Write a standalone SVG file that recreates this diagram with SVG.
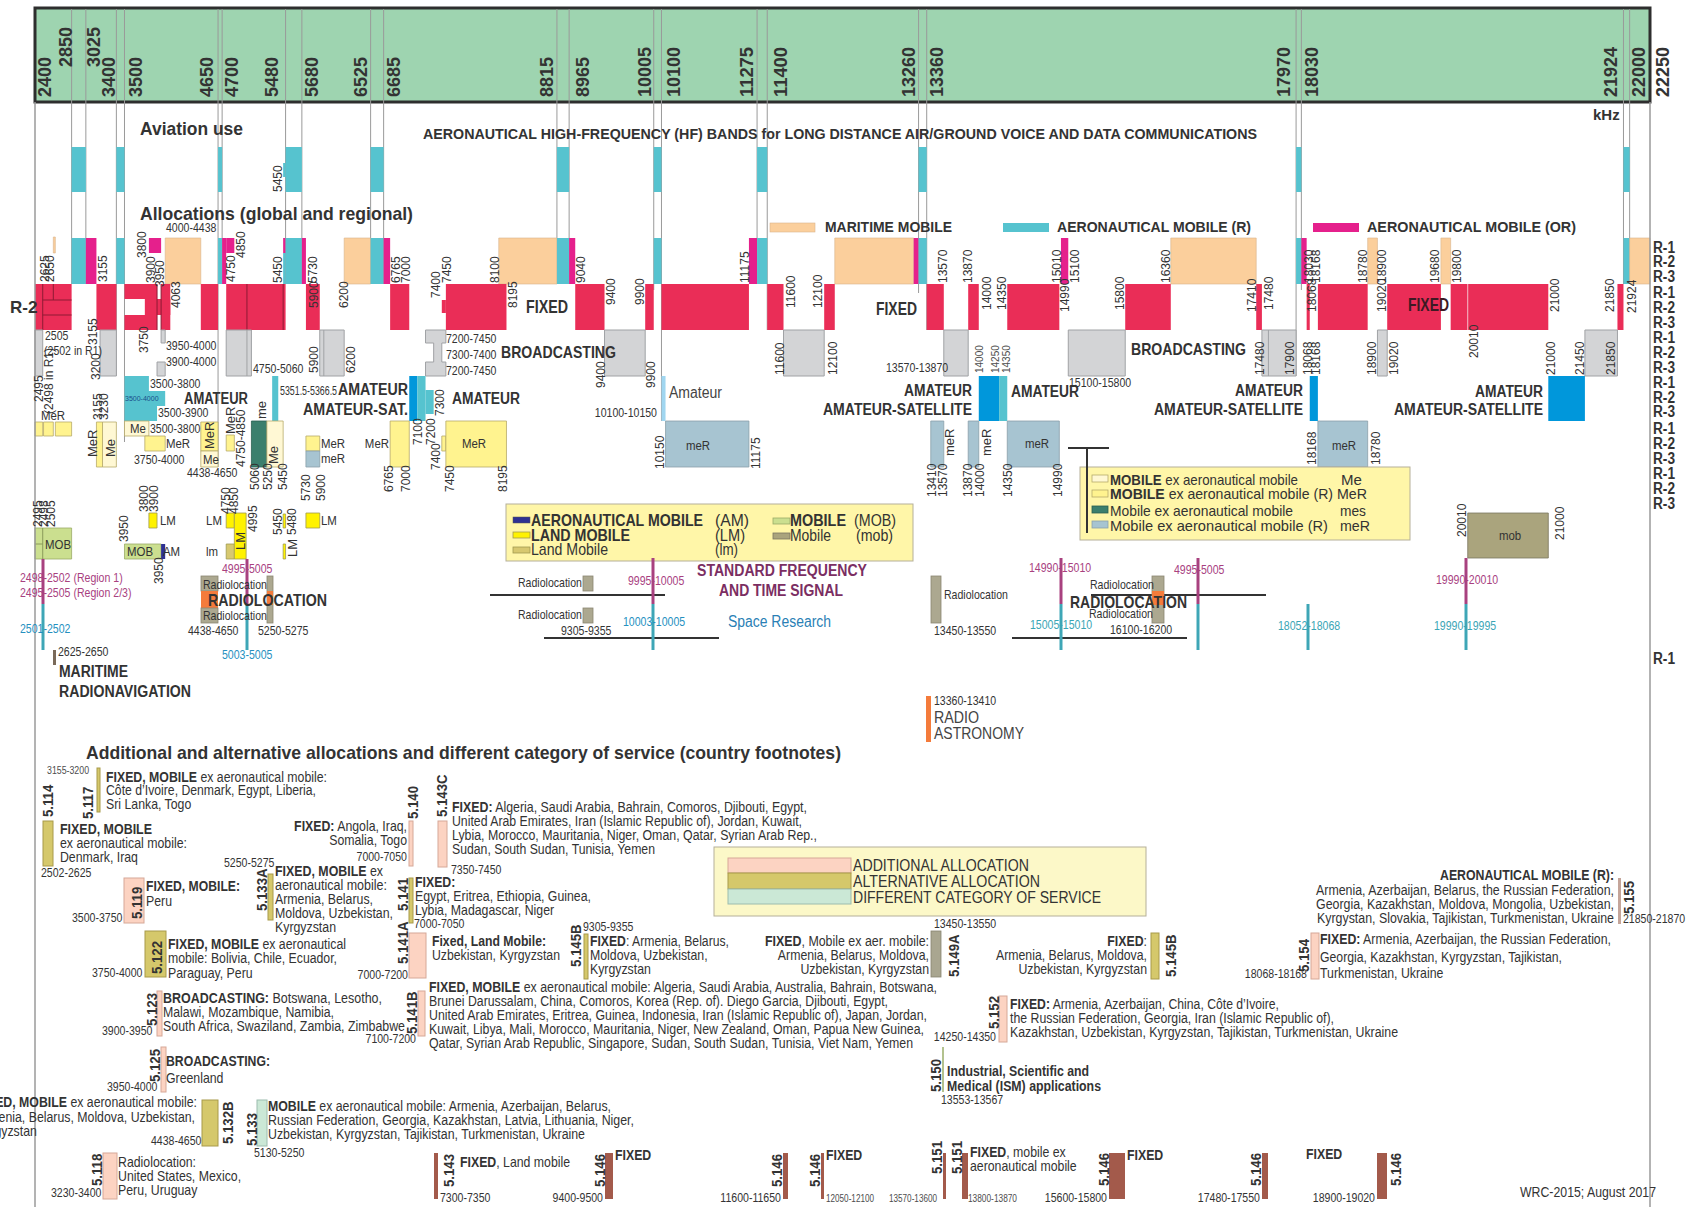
<svg xmlns="http://www.w3.org/2000/svg" width="1688" height="1207" viewBox="0 0 1688 1207">
<style>
text{font-family:"Liberation Sans Narrow","Liberation Sans",Arial,sans-serif;fill:#333}
.hd{font-size:19px;font-weight:bold;fill:#222}
.t{font-weight:bold;fill:#333}
.s{font-size:12px;fill:#4d4d4d}
.xs{font-size:10px;fill:#4d4d4d}
.m{font-size:13px;fill:#444}
.fn{font-size:14px;fill:#3a3a3a}
.nb{font-size:15px;font-weight:bold;fill:#333}
.b{font-weight:bold}
.rl{font-size:16px;font-weight:bold;fill:#333}
.s text:not([transform]):not([textLength]),.m text:not([transform]),.fn text:not([transform]):not([textLength]){transform-box:fill-box;transform-origin:0 0;transform:scaleX(.88)}
.s text[text-anchor=end]:not([transform]):not([textLength]),.m text[text-anchor=end]:not([transform]),.fn text[text-anchor=end]:not([transform]):not([textLength]){transform-origin:100% 0}
.m text[text-anchor=middle]:not([transform]){transform-origin:50% 0}
.fq rect,.fq line,.fq path{vector-effect:non-scaling-stroke}
.pe{fill:#fbcf9c;stroke:#d9b48c;stroke-width:.6}
.cy{fill:#56c3cf}
.mg{fill:#e5208c}
.rd{fill:#ea2d57}
.gy{fill:#d3d4d6;stroke:#a0a2a5;stroke-width:1}
.ab{fill:#0097db}
.ac{fill:#56c3cf}
.mr{fill:#fff38f;stroke:#b6aa6a;stroke-width:.8}
.me{fill:#fff8d4;stroke:#b6aa6a;stroke-width:.8}
.ms{fill:#3b7f6d;stroke:#2a5e50;stroke-width:.8}
.mb{fill:#a7c4d1;stroke:#8aa0aa;stroke-width:.8}
.lm{fill:#fff200;stroke:#a09a50;stroke-width:.8}
.ll{fill:#d7c86f;stroke:#a09a50;stroke-width:.8}
.mo{fill:#cbdf8f;stroke:#9aaa66;stroke-width:.8}
.mm{fill:#aaa47d;stroke:#7a7660;stroke-width:.8}
.am{fill:#2e3192}
.rk{fill:#aca890;stroke:#8a8672;stroke-width:.8}
.or{fill:#f47b3b}
.ad{fill:#fcd3c2;stroke:#d6a898;stroke-width:1}
.al{fill:#d5c86b;stroke:#a89a4a;stroke-width:1}
.dc{fill:#cbe8d6;stroke:#9cbcae;stroke-width:1}
.br{fill:#a35a4b}
.pu{stroke:#a8417f;stroke-width:3}
.te{stroke:#3ea6b6;stroke-width:3}
.pt{fill:#a8417f}
.bt{fill:#2590bf}
.tt{fill:#3aa5b5}
.lg{fill:#fff6a8;stroke:#b5b09a;stroke-width:1}
</style>

<g id="header">
<rect x="35" y="8" width="1615" height="94" fill="#9ed4b0" stroke="#2e2e2e" stroke-width="3"/>
</g>

<g id="bands" class="fq" transform="matrix(0.08136 0 0 1 -160.264 0)">
<g id="grid" stroke="#9a9a9a" stroke-width="1">
<line x1="2850" x2="2850" y1="9" y2="284"/><line x1="3025" x2="3025" y1="9" y2="284"/>
<line x1="3400" x2="3400" y1="9" y2="376"/><line x1="3500" x2="3500" y1="9" y2="442"/>
<line x1="4650" x2="4650" y1="9" y2="467"/><line x1="4700" x2="4700" y1="9" y2="284"/>
<line x1="5480" x2="5480" y1="9" y2="284"/><line x1="5680" x2="5680" y1="9" y2="284"/>
<line x1="6525" x2="6525" y1="9" y2="284"/><line x1="6685" x2="6685" y1="9" y2="284"/>
<line x1="8815" x2="8815" y1="9" y2="284"/><line x1="8965" x2="8965" y1="9" y2="284"/>
<line x1="10005" x2="10005" y1="9" y2="290"/><line x1="10100" x2="10100" y1="9" y2="421"/>
<line x1="11275" x2="11275" y1="9" y2="284"/><line x1="11400" x2="11400" y1="9" y2="330"/>
<line x1="13260" x2="13260" y1="9" y2="293"/><line x1="13360" x2="13360" y1="9" y2="330"/>
<line x1="17900" x2="17900" y1="9" y2="376"/><line x1="17965" x2="17965" y1="9" y2="290"/>
<line x1="21924" x2="21924" y1="9" y2="284"/><line x1="22000" x2="22000" y1="9" y2="284"/>
</g>

<g id="aviation" class="cy">
<rect x="2850" y="147" width="175" height="45"/><rect x="3400" y="147" width="100" height="45"/>
<rect x="4650" y="147" width="50" height="45"/><rect x="5480" y="147" width="200" height="45"/>
<rect x="5450" y="163" width="30" height="14"/>
<rect x="6525" y="147" width="160" height="45"/><rect x="8815" y="147" width="150" height="45"/>
<rect x="10005" y="147" width="95" height="45"/><rect x="11275" y="147" width="125" height="45"/>
<rect x="13260" y="147" width="100" height="45"/><rect x="17900" y="147" width="65" height="45"/>
<rect x="21924" y="147" width="76" height="45"/>
</g>

<g id="mobile-row">
<rect class="pe" x="2625" y="237" width="25" height="16"/>
<rect class="cy" x="2850" y="238" width="175" height="46"/>
<rect class="mg" x="3025" y="238" width="130" height="46"/>
<rect class="cy" x="3400" y="238" width="100" height="46"/>
<rect class="mg" x="3800" y="238" width="150" height="15"/>
<rect class="pe" x="4000" y="238" width="438" height="46"/>
<rect class="cy" x="4650" y="238" width="50" height="46"/>
<rect class="mg" x="4700" y="238" width="50" height="46"/>
<rect class="mg" x="4750" y="238" width="100" height="15"/>
<rect class="mg" x="5450" y="238" width="30" height="15"/>
<rect class="cy" x="5450" y="253" width="30" height="31"/>
<rect class="cy" x="5480" y="238" width="200" height="46"/>
<rect class="mg" x="5680" y="238" width="50" height="46"/>
<rect class="pe" x="6200" y="238" width="325" height="46"/>
<rect class="cy" x="6525" y="238" width="160" height="46"/>
<rect class="mg" x="6685" y="238" width="80" height="46"/>
<rect class="pe" x="8100" y="238" width="715" height="46"/>
<rect class="cy" x="8815" y="238" width="150" height="46"/>
<rect class="mg" x="8965" y="238" width="75" height="46"/>
<rect class="cy" x="10005" y="238" width="95" height="46"/>
<rect class="mg" x="11175" y="238" width="100" height="46"/>
<rect class="cy" x="11275" y="238" width="125" height="46"/>
<rect class="pe" x="12230" y="238" width="970" height="46"/>
<rect class="mg" x="13200" y="238" width="60" height="46"/>
<rect class="cy" x="13260" y="238" width="100" height="46"/>
<rect class="mg" x="15010" y="238" width="90" height="46"/>
<rect class="pe" x="16360" y="238" width="1050" height="46"/>
<rect class="cy" x="17900" y="238" width="65" height="46"/>
<rect class="mg" x="17965" y="238" width="65" height="46"/>
<rect class="pe" x="18780" y="238" width="120" height="46"/>
<rect class="pe" x="19680" y="238" width="120" height="46"/>
<rect class="cy" x="21924" y="238" width="76" height="46"/>
<rect class="pe" x="22000" y="238" width="250" height="46"/>
</g>

<g id="fixed-row" class="rd">
<rect x="2400" y="284" width="450" height="46"/>
<rect x="3155" y="284" width="245" height="46"/>
<rect x="3500" y="284" width="400" height="15"/>
<rect x="3750" y="299" width="313" height="16"/>
<rect x="3500" y="315" width="400" height="15"/>
<rect x="3950" y="284" width="113" height="46"/>
<rect x="4438" y="284" width="212" height="46"/>
<rect x="4750" y="284" width="730" height="46"/>
<rect x="5730" y="284" width="170" height="46"/>
<rect x="6765" y="284" width="235" height="46"/>
<rect x="7400" y="300" width="50" height="13"/>
<rect x="7450" y="284" width="745" height="46"/>
<rect x="9040" y="284" width="360" height="46"/>
<rect x="9900" y="284" width="105" height="46"/>
<rect x="10100" y="284" width="1075" height="46"/>
<rect x="11400" y="284" width="200" height="46"/>
<rect x="12100" y="284" width="130" height="46"/>
<rect x="13360" y="284" width="210" height="46"/>
<rect x="13870" y="284" width="130" height="46"/>
<rect x="14350" y="284" width="640" height="46"/>
<rect x="15800" y="284" width="560" height="46"/>
<rect x="17410" y="284" width="70" height="46"/>
<rect x="18030" y="284" width="38" height="46"/>
<rect x="18168" y="284" width="612" height="46"/>
<rect x="19020" y="284" width="660" height="46"/>
<rect x="19800" y="284" width="210" height="46"/>
<rect x="20010" y="284" width="990" height="46"/>
<rect x="21850" y="284" width="74" height="46"/>
</g>
<g id="fixed-dividers" stroke="#8e1a34" stroke-width="1">
<line x1="2495" x2="2495" y1="284" y2="330"/><line x1="2625" x2="2625" y1="284" y2="300"/>
<line x1="2495" x2="2850" y1="300" y2="300"/><line x1="2495" x2="2850" y1="315" y2="315"/>
<line x1="3900" x2="3900" y1="284" y2="330"/><line x1="3950" x2="3950" y1="284" y2="330"/>
<line x1="5005" x2="5005" y1="284" y2="330"/><line x1="5450" x2="5450" y1="284" y2="330"/>
<line x1="20010" x2="20010" y1="284" y2="330" stroke="#f4b6c2"/>
</g>

<g id="broadcasting-row" class="gy">
<rect x="2400" y="330" width="95" height="46"/>
<rect x="3200" y="330" width="200" height="46"/>
<rect x="3950" y="330" width="50" height="13"/>
<rect x="3900" y="362" width="100" height="14"/>
<rect x="4750" y="330" width="310" height="46"/>
<line x1="5005" x2="5005" y1="330" y2="376" stroke="#a0a2a5"/>
<rect x="5900" y="330" width="300" height="46"/>
<line x1="5950" x2="5950" y1="330" y2="376" stroke="#a0a2a5"/>
<path d="M7200 330 H7450 V343 H7400 V362 H7450 V376 H7200 V362 H7300 V343 H7200 Z"/>
<rect x="9400" y="330" width="500" height="46"/>
<rect x="11600" y="330" width="500" height="46"/>
<rect x="13570" y="330" width="300" height="46"/>
<rect x="15100" y="330" width="700" height="46"/>
<rect x="17480" y="330" width="420" height="46"/>
<line x1="17560" x2="17560" y1="330" y2="376" stroke="#a0a2a5"/>
<rect x="18900" y="330" width="120" height="46"/>
<rect x="21450" y="330" width="400" height="46"/>
</g>

<g id="amateur-row">
<rect class="ac" x="3500" y="376" width="300" height="15"/>
<rect class="ac" x="3500" y="391" width="500" height="15"/>
<rect class="ac" x="3500" y="406" width="400" height="15"/>
<rect class="ac" x="5315" y="376" width="75" height="45"/>
<rect class="ab" x="7000" y="376" width="100" height="45"/>
<rect class="ac" x="7100" y="376" width="100" height="45"/>
<rect class="ac" x="7200" y="390" width="100" height="24"/>
<rect fill="#a0d6f0" x="10100" y="376" width="50" height="45"/>
<rect class="ab" x="14000" y="376" width="250" height="45"/>
<rect class="ac" x="14250" y="376" width="100" height="45"/>
<rect class="ab" x="18068" y="376" width="100" height="45"/>
<rect class="ab" x="21000" y="376" width="450" height="45"/>
</g>

<g id="mobile-ex-row">
<rect class="mr" x="2400" y="422" width="95" height="14"/>
<rect class="mr" x="2505" y="422" width="120" height="14"/>
<rect class="mr" x="2650" y="422" width="200" height="14"/>
<rect class="mr" x="3155" y="422" width="75" height="45"/>
<rect class="me" x="3230" y="422" width="170" height="45"/>
<rect class="me" x="3500" y="421" width="300" height="15"/>
<rect class="mr" x="3750" y="436" width="250" height="15"/>
<rect class="mr" x="4438" y="422" width="212" height="29"/>
<rect class="me" x="4438" y="451" width="212" height="16"/>
<rect class="mr" x="4750" y="435" width="100" height="16"/>
<rect class="ms" x="5060" y="421" width="190" height="46"/>
<rect class="me" x="5250" y="421" width="200" height="46"/>
<rect class="mr" x="5730" y="436" width="170" height="15"/>
<rect class="mb" x="5730" y="451" width="170" height="16"/>
<rect class="mr" x="6765" y="421" width="235" height="46"/>
<rect class="mr" x="7400" y="436" width="50" height="15"/>
<rect class="mr" x="7450" y="421" width="745" height="46"/>
<rect class="mb" x="10150" y="421" width="1025" height="46"/>
<rect class="mb" x="13410" y="421" width="160" height="46"/>
<rect class="mb" x="13870" y="421" width="130" height="46"/>
<rect class="mb" x="14350" y="421" width="640" height="46"/>
<rect class="mb" x="18168" y="421" width="612" height="46"/>
</g>

<g id="land-mobile-row">
<rect class="mo" x="2400" y="528" width="450" height="31"/>
<line x1="2495" x2="2495" y1="528" y2="559" stroke="#8a9a5a"/>
<line x1="2400" x2="2495" y1="544" y2="544" stroke="#8a9a5a"/>
<rect class="lm" x="3800" y="513" width="100" height="15"/>
<rect class="mo" x="3500" y="544" width="450" height="15"/>
<rect class="am" x="3950" y="544" width="50" height="15"/>
<rect class="lm" x="4750" y="513" width="100" height="15"/>
<rect class="ll" x="4750" y="544" width="100" height="15"/>
<rect class="lm" x="4850" y="513" width="145" height="46"/>
<rect class="lm" x="5450" y="514" width="30" height="14"/>
<rect class="lm" x="5450" y="544" width="30" height="15"/>
<rect class="lm" x="5730" y="513" width="170" height="15"/>
<rect class="mm" x="20010" y="513" width="990" height="45"/>
</g>
</g>

<g id="borders" stroke="#9a9a9a" stroke-width="1.5">
<line x1="35" y1="102" x2="35" y2="1207"/>
<line x1="1650" y1="102" x2="1650" y2="1207"/>
</g>

<g id="header-labels" class="hd">
<text transform="translate(51 97) rotate(-90)" textLength="40" lengthAdjust="spacingAndGlyphs">2400</text>
<text transform="translate(72 67) rotate(-90)" textLength="40" lengthAdjust="spacingAndGlyphs">2850</text>
<text transform="translate(100 67) rotate(-90)" textLength="40" lengthAdjust="spacingAndGlyphs">3025</text>
<text transform="translate(115 97) rotate(-90)" textLength="40" lengthAdjust="spacingAndGlyphs">3400</text>
<text transform="translate(142 97) rotate(-90)" textLength="40" lengthAdjust="spacingAndGlyphs">3500</text>
<text transform="translate(213 97) rotate(-90)" textLength="40" lengthAdjust="spacingAndGlyphs">4650</text>
<text transform="translate(238 97) rotate(-90)" textLength="40" lengthAdjust="spacingAndGlyphs">4700</text>
<text transform="translate(278 97) rotate(-90)" textLength="40" lengthAdjust="spacingAndGlyphs">5480</text>
<text transform="translate(318 97) rotate(-90)" textLength="40" lengthAdjust="spacingAndGlyphs">5680</text>
<text transform="translate(367 97) rotate(-90)" textLength="40" lengthAdjust="spacingAndGlyphs">6525</text>
<text transform="translate(400 97) rotate(-90)" textLength="40" lengthAdjust="spacingAndGlyphs">6685</text>
<text transform="translate(553 97) rotate(-90)" textLength="40" lengthAdjust="spacingAndGlyphs">8815</text>
<text transform="translate(589 97) rotate(-90)" textLength="40" lengthAdjust="spacingAndGlyphs">8965</text>
<text transform="translate(651 97) rotate(-90)" textLength="50" lengthAdjust="spacingAndGlyphs">10005</text>
<text transform="translate(680 97) rotate(-90)" textLength="50" lengthAdjust="spacingAndGlyphs">10100</text>
<text transform="translate(753 97) rotate(-90)" textLength="50" lengthAdjust="spacingAndGlyphs">11275</text>
<text transform="translate(787 97) rotate(-90)" textLength="50" lengthAdjust="spacingAndGlyphs">11400</text>
<text transform="translate(915 97) rotate(-90)" textLength="50" lengthAdjust="spacingAndGlyphs">13260</text>
<text transform="translate(943 97) rotate(-90)" textLength="50" lengthAdjust="spacingAndGlyphs">13360</text>
<text transform="translate(1290 97) rotate(-90)" textLength="50" lengthAdjust="spacingAndGlyphs">17970</text>
<text transform="translate(1318 97) rotate(-90)" textLength="50" lengthAdjust="spacingAndGlyphs">18030</text>
<text transform="translate(1617 97) rotate(-90)" textLength="50" lengthAdjust="spacingAndGlyphs">21924</text>
<text transform="translate(1645 97) rotate(-90)" textLength="50" lengthAdjust="spacingAndGlyphs">22000</text>
<text transform="translate(1669 97) rotate(-90)" textLength="50" lengthAdjust="spacingAndGlyphs">22250</text>
<text x="1593" y="120" style="font-size:15px">kHz</text>
</g>

<g id="titles" class="t">
<text x="140" y="135" style="font-size:19px" textLength="103" lengthAdjust="spacingAndGlyphs">Aviation use</text>
<text x="140" y="220" style="font-size:19px" textLength="273" lengthAdjust="spacingAndGlyphs">Allocations (global and regional)</text>
<text x="423" y="139" style="font-size:15px" textLength="834" lengthAdjust="spacingAndGlyphs">AERONAUTICAL HIGH-FREQUENCY  (HF)  BANDS for LONG DISTANCE AIR/GROUND VOICE AND DATA COMMUNICATIONS</text>
<text x="86" y="759" style="font-size:19px" textLength="755" lengthAdjust="spacingAndGlyphs">Additional and alternative allocations and different category of service (country footnotes)</text>
</g>

<g id="legend-top">
<rect class="pe" x="770" y="223" width="45" height="9"/>
<text class="t" x="825" y="232" style="font-size:15px" textLength="127" lengthAdjust="spacingAndGlyphs">MARITIME MOBILE</text>
<rect class="cy" x="1003" y="223" width="46" height="9"/>
<text class="t" x="1057" y="232" style="font-size:15px" textLength="194" lengthAdjust="spacingAndGlyphs">AERONAUTICAL MOBILE (R)</text>
<rect class="mg" x="1313" y="223" width="46" height="9"/>
<text class="t" x="1367" y="232" style="font-size:15px" textLength="209" lengthAdjust="spacingAndGlyphs">AERONAUTICAL  MOBILE (OR)</text>
</g>

<g id="regions" class="rl">
<text x="10" y="313" style="font-size:17px">R-2</text>
<text x="1653" y="253" textLength="22" lengthAdjust="spacingAndGlyphs">R-1</text>
<text x="1653" y="267" textLength="22" lengthAdjust="spacingAndGlyphs">R-2</text>
<text x="1653" y="282" textLength="22" lengthAdjust="spacingAndGlyphs">R-3</text>
<text x="1653" y="298" textLength="22" lengthAdjust="spacingAndGlyphs">R-1</text>
<text x="1653" y="313" textLength="22" lengthAdjust="spacingAndGlyphs">R-2</text>
<text x="1653" y="328" textLength="22" lengthAdjust="spacingAndGlyphs">R-3</text>
<text x="1653" y="343" textLength="22" lengthAdjust="spacingAndGlyphs">R-1</text>
<text x="1653" y="358" textLength="22" lengthAdjust="spacingAndGlyphs">R-2</text>
<text x="1653" y="373" textLength="22" lengthAdjust="spacingAndGlyphs">R-3</text>
<text x="1653" y="388" textLength="22" lengthAdjust="spacingAndGlyphs">R-1</text>
<text x="1653" y="403" textLength="22" lengthAdjust="spacingAndGlyphs">R-2</text>
<text x="1653" y="417" textLength="22" lengthAdjust="spacingAndGlyphs">R-3</text>
<text x="1653" y="434" textLength="22" lengthAdjust="spacingAndGlyphs">R-1</text>
<text x="1653" y="449" textLength="22" lengthAdjust="spacingAndGlyphs">R-2</text>
<text x="1653" y="464" textLength="22" lengthAdjust="spacingAndGlyphs">R-3</text>
<text x="1653" y="479" textLength="22" lengthAdjust="spacingAndGlyphs">R-1</text>
<text x="1653" y="494" textLength="22" lengthAdjust="spacingAndGlyphs">R-2</text>
<text x="1653" y="509" textLength="22" lengthAdjust="spacingAndGlyphs">R-3</text>
<text x="1653" y="664" textLength="22" lengthAdjust="spacingAndGlyphs">R-1</text>
</g>

<g id="service-names" class="t">
<text x="526" y="313" style="font-size:18px" textLength="42" lengthAdjust="spacingAndGlyphs">FIXED</text>
<text x="876" y="315" style="font-size:18px" textLength="41" lengthAdjust="spacingAndGlyphs">FIXED</text>
<text x="1408" y="311" style="font-size:18px;fill:#3d1a24" textLength="41" lengthAdjust="spacingAndGlyphs">FIXED</text>
<text x="501" y="358" style="font-size:17px" textLength="115" lengthAdjust="spacingAndGlyphs">BROADCASTING</text>
<text x="1131" y="355" style="font-size:17px" textLength="115" lengthAdjust="spacingAndGlyphs">BROADCASTING</text>
<text x="184" y="404" style="font-size:16px" textLength="64" lengthAdjust="spacingAndGlyphs">AMATEUR</text>
<text x="338" y="395" style="font-size:16px" textLength="70" lengthAdjust="spacingAndGlyphs">AMATEUR</text>
<text x="303" y="415" style="font-size:16px" textLength="105" lengthAdjust="spacingAndGlyphs">AMATEUR-SAT.</text>
<text x="452" y="404" style="font-size:16px" textLength="68" lengthAdjust="spacingAndGlyphs">AMATEUR</text>
<text x="904" y="396" style="font-size:16px" textLength="68" lengthAdjust="spacingAndGlyphs">AMATEUR</text>
<text x="823" y="415" style="font-size:16px" textLength="149" lengthAdjust="spacingAndGlyphs">AMATEUR-SATELLITE</text>
<text x="1011" y="397" style="font-size:16px" textLength="68" lengthAdjust="spacingAndGlyphs">AMATEUR</text>
<text x="1235" y="396" style="font-size:16px" textLength="68" lengthAdjust="spacingAndGlyphs">AMATEUR</text>
<text x="1154" y="415" style="font-size:16px" textLength="149" lengthAdjust="spacingAndGlyphs">AMATEUR-SATELLITE</text>
<text x="1475" y="397" style="font-size:16px" textLength="68" lengthAdjust="spacingAndGlyphs">AMATEUR</text>
<text x="1394" y="415" style="font-size:16px" textLength="149" lengthAdjust="spacingAndGlyphs">AMATEUR-SATELLITE</text>
<text x="669" y="398" style="font-size:16px;font-weight:normal;fill:#444" textLength="53" lengthAdjust="spacingAndGlyphs">Amateur</text>
</g>

<g id="band-labels" class="s">
<text transform="translate(282 192) rotate(-90)">5450</text>
<text transform="translate(49 282) rotate(-90)">2625</text>
<text transform="translate(54 282) rotate(-90)">2650</text>
<text transform="translate(107 282) rotate(-90)">3155</text>
<text transform="translate(146 258) rotate(-90)">3800</text>
<text transform="translate(155 283) rotate(-90)">3900</text>
<text transform="translate(164 287) rotate(-90)">3950</text>
<text transform="translate(180 308) rotate(-90)">4063</text>
<text transform="translate(235 282) rotate(-90)">4750</text>
<text transform="translate(245 258) rotate(-90)">4850</text>
<text transform="translate(282 283) rotate(-90)">5450</text>
<text transform="translate(317 283) rotate(-90)">5730</text>
<text transform="translate(400 283) rotate(-90)">6765</text>
<text transform="translate(410 283) rotate(-90)">7000</text>
<text transform="translate(318 308) rotate(-90)">5900</text>
<text transform="translate(348 308) rotate(-90)">6200</text>
<text transform="translate(440 298) rotate(-90)">7400</text>
<text transform="translate(451 283) rotate(-90)">7450</text>
<text transform="translate(499 283) rotate(-90)">8100</text>
<text transform="translate(517 308) rotate(-90)">8195</text>
<text transform="translate(585 283) rotate(-90)">9040</text>
<text transform="translate(615 305) rotate(-90)">9400</text>
<text transform="translate(644 305) rotate(-90)">9900</text>
<text transform="translate(749 283) rotate(-90)">11175</text>
<text transform="translate(795 308) rotate(-90)">11600</text>
<text transform="translate(822 308) rotate(-90)">12100</text>
<text transform="translate(947 283) rotate(-90)">13570</text>
<text transform="translate(972 283) rotate(-90)">13870</text>
<text transform="translate(991 310) rotate(-90)">14000</text>
<text transform="translate(1006 310) rotate(-90)">14350</text>
<text transform="translate(1061 283) rotate(-90)">15010</text>
<text transform="translate(1079 283) rotate(-90)">15100</text>
<text transform="translate(1069 312) rotate(-90)">14990</text>
<text transform="translate(1124 310) rotate(-90)">15800</text>
<text transform="translate(1170 283) rotate(-90)">16360</text>
<text transform="translate(1256 312) rotate(-90)">17410</text>
<text transform="translate(1273 310) rotate(-90)">17480</text>
<text transform="translate(1313 283) rotate(-90)">18030</text>
<text transform="translate(1320 283) rotate(-90)">18168</text>
<text transform="translate(1316 312) rotate(-90)">18068</text>
<text transform="translate(1367 283) rotate(-90)">18780</text>
<text transform="translate(1386 283) rotate(-90)">18900</text>
<text transform="translate(1386 312) rotate(-90)">19020</text>
<text transform="translate(1439 283) rotate(-90)">19680</text>
<text transform="translate(1461 283) rotate(-90)">19800</text>
<text transform="translate(1559 312) rotate(-90)">21000</text>
<text transform="translate(1614 312) rotate(-90)">21850</text>
<text transform="translate(1636 313) rotate(-90)">21924</text>
<text transform="translate(97 345) rotate(-90)">3155</text>
<text transform="translate(100 380) rotate(-90)">3200</text>
<text transform="translate(148 353) rotate(-90)">3750</text>
<text transform="translate(318 373) rotate(-90)">5900</text>
<text transform="translate(355 373) rotate(-90)">6200</text>
<text transform="translate(605 388) rotate(-90)">9400</text>
<text transform="translate(655 388) rotate(-90)">9900</text>
<text transform="translate(784 375) rotate(-90)">11600</text>
<text transform="translate(837 375) rotate(-90)">12100</text>
<text class="xs" transform="translate(983 373) rotate(-90)">14000</text>
<text class="xs" transform="translate(999 373) rotate(-90)">14250</text>
<text class="xs" transform="translate(1010 373) rotate(-90)">14350</text>
<text transform="translate(1264 375) rotate(-90)">17480</text>
<text transform="translate(1294 375) rotate(-90)">17900</text>
<text transform="translate(1312 375) rotate(-90)">18068</text>
<text transform="translate(1320 375) rotate(-90)">18168</text>
<text transform="translate(1376 375) rotate(-90)">18900</text>
<text transform="translate(1398 375) rotate(-90)">19020</text>
<text transform="translate(1478 358) rotate(-90)">20010</text>
<text transform="translate(1555 375) rotate(-90)">21000</text>
<text transform="translate(1584 375) rotate(-90)">21450</text>
<text transform="translate(1615 375) rotate(-90)">21850</text>
<text transform="translate(43 402) rotate(-90)">2495</text>
<text transform="translate(53 414) rotate(-90)">(2498 in R1)</text>
<text transform="translate(102 420) rotate(-90)">3155</text>
<text transform="translate(108 420) rotate(-90)">3230</text>
<text transform="translate(422 445) rotate(-90)">7100</text>
<text transform="translate(435 445) rotate(-90)">7200</text>
<text transform="translate(444 416) rotate(-90)">7300</text>
<text transform="translate(245 467) rotate(-90)">4750-4850</text>
<text transform="translate(259 490) rotate(-90)">5060</text>
<text transform="translate(272 490) rotate(-90)">5250</text>
<text transform="translate(287 490) rotate(-90)">5450</text>
<text transform="translate(310 501) rotate(-90)">5730</text>
<text transform="translate(325 501) rotate(-90)">5900</text>
<text transform="translate(393 492) rotate(-90)">6765</text>
<text transform="translate(410 492) rotate(-90)">7000</text>
<text transform="translate(440 470) rotate(-90)">7400</text>
<text transform="translate(454 492) rotate(-90)">7450</text>
<text transform="translate(507 492) rotate(-90)">8195</text>
<text transform="translate(664 469) rotate(-90)">10150</text>
<text transform="translate(760 469) rotate(-90)">11175</text>
<text transform="translate(936 497) rotate(-90)">13410</text>
<text transform="translate(947 497) rotate(-90)">13570</text>
<text transform="translate(972 497) rotate(-90)">13870</text>
<text transform="translate(984 497) rotate(-90)">14000</text>
<text transform="translate(1012 497) rotate(-90)">14350</text>
<text transform="translate(1062 497) rotate(-90)">14990</text>
<text transform="translate(1316 465) rotate(-90)">18168</text>
<text transform="translate(1380 465) rotate(-90)">18780</text>
<text transform="translate(42 527) rotate(-90)">2495</text>
<text transform="translate(48 527) rotate(-90)">2498</text>
<text transform="translate(55 527) rotate(-90)">2505</text>
<text transform="translate(148 512) rotate(-90)">3800</text>
<text transform="translate(158 512) rotate(-90)">3900</text>
<text transform="translate(128 542) rotate(-90)">3950</text>
<text transform="translate(163 584) rotate(-90)">3950</text>
<text transform="translate(230 514) rotate(-90)">4750</text>
<text transform="translate(238 514) rotate(-90)">4850</text>
<text transform="translate(257 532) rotate(-90)">4995</text>
<text transform="translate(282 535) rotate(-90)">5450</text>
<text transform="translate(296 535) rotate(-90)">5480</text>
<text transform="translate(1466 537) rotate(-90)">20010</text>
<text transform="translate(1564 540) rotate(-90)">21000</text>
<text x="45" y="340">2505</text>
<text x="44" y="355">(2502 in R1)</text>
<text x="166" y="350">3950-4000</text>
<text x="166" y="366">3900-4000</text>
<text x="253" y="373">4750-5060</text>
<text x="446" y="343">7200-7450</text>
<text x="446" y="359">7300-7400</text>
<text x="446" y="375">7200-7450</text>
<text x="886" y="372">13570-13870</text>
<text x="1069" y="387">15100-15800</text>
<text x="166" y="232">4000-4438</text>
<text x="150" y="388">3500-3800</text>
<text x="125" y="401" style="font-size:8px;fill:#1b4f8a">3500-4000</text>
<text x="158" y="417">3500-3900</text>
<text x="280" y="395" textLength="57" lengthAdjust="spacingAndGlyphs">5351.5-5366.5</text>
<text x="657" y="417" text-anchor="end">10100-10150</text>
<text x="150" y="433">3500-3800</text>
<text x="134" y="464">3750-4000</text>
<text x="187" y="477">4438-4650</text>
</g>

<g id="mobile-labels" class="m">
<text x="41" y="420">MeR</text>
<text transform="translate(97 457) rotate(-90)">MeR</text>
<text transform="translate(115 457) rotate(-90)">Me</text>
<text x="130" y="433">Me</text>
<text x="166" y="448">MeR</text>
<text transform="translate(214 449) rotate(-90)">MeR</text>
<text x="203" y="464">Me</text>
<text transform="translate(235 434) rotate(-90)">MeR</text>
<text transform="translate(266 419) rotate(-90)">me</text>
<text transform="translate(278 464) rotate(-90)">Me</text>
<text x="321" y="448">MeR</text>
<text x="321" y="463">meR</text>
<text x="389" y="448" text-anchor="end">MeR</text>
<text x="474" y="448" text-anchor="middle">MeR</text>
<text x="698" y="450" text-anchor="middle">meR</text>
<text transform="translate(954 456) rotate(-90)">meR</text>
<text transform="translate(991 456) rotate(-90)">meR</text>
<text x="1037" y="448" text-anchor="middle">meR</text>
<text x="1344" y="450" text-anchor="middle">meR</text>
<text x="45" y="549">MOB</text>
<text x="160" y="525">LM</text>
<text x="127" y="556">MOB</text>
<text x="163" y="556">AM</text>
<text x="222" y="525" text-anchor="end">LM</text>
<text x="212" y="556" text-anchor="middle">lm</text>
<text transform="translate(245 550) rotate(-90)">LM</text>
<text transform="translate(297 557) rotate(-90)">LM</text>
<text x="321" y="525">LM</text>
<text x="1510" y="540" text-anchor="middle">mob</text>
</g>

<g id="legend-mobile">
<rect class="lg" x="506" y="504" width="407" height="57"/>
<rect class="am" x="513" y="517" width="17" height="6" stroke="#555" stroke-width=".5"/>
<rect class="lm" x="513" y="532" width="17" height="6"/>
<rect class="ll" x="513" y="547" width="17" height="6"/>
<rect class="mo" x="773" y="518" width="17" height="6"/>
<rect class="mm" x="773" y="533" width="17" height="6"/>
<text x="531" y="526" style="font-size:17px;font-weight:bold" textLength="172" lengthAdjust="spacingAndGlyphs">AERONAUTICAL MOBILE</text>
<text x="531" y="541" style="font-size:17px;font-weight:bold" textLength="99" lengthAdjust="spacingAndGlyphs">LAND MOBILE</text>
<text x="531" y="555" style="font-size:17px" textLength="77" lengthAdjust="spacingAndGlyphs">Land Mobile</text>
<text x="715" y="526" style="font-size:16px" textLength="34" lengthAdjust="spacingAndGlyphs">(AM)</text>
<text x="715" y="541" style="font-size:16px" textLength="30" lengthAdjust="spacingAndGlyphs">(LM)</text>
<text x="715" y="555" style="font-size:16px" textLength="23" lengthAdjust="spacingAndGlyphs">(lm)</text>
<text x="790" y="526" style="font-size:17px;font-weight:bold" textLength="56" lengthAdjust="spacingAndGlyphs">MOBILE</text>
<text x="790" y="541" style="font-size:17px" textLength="41" lengthAdjust="spacingAndGlyphs">Mobile</text>
<text x="854" y="526" style="font-size:16px" textLength="42" lengthAdjust="spacingAndGlyphs">(MOB)</text>
<text x="856" y="541" style="font-size:16px" textLength="37" lengthAdjust="spacingAndGlyphs">(mob)</text>
</g>

<g id="legend-mobile-ex">
<rect class="lg" x="1080" y="467" width="330" height="73"/>
<rect class="me" x="1092" y="475" width="16" height="7"/>
<rect class="mr" x="1092" y="490" width="16" height="7"/>
<rect class="ms" x="1092" y="506" width="16" height="7"/>
<rect class="mb" x="1092" y="521" width="16" height="7"/>
<text x="1110" y="485" style="font-size:15px" textLength="188" lengthAdjust="spacingAndGlyphs"><tspan class="b">MOBILE</tspan> ex aeronautical mobile</text>
<text x="1110" y="499" style="font-size:15px" textLength="223" lengthAdjust="spacingAndGlyphs"><tspan class="b">MOBILE</tspan> ex aeronautical mobile (R)</text>
<text x="1110" y="516" style="font-size:15px" textLength="183" lengthAdjust="spacingAndGlyphs">Mobile ex aeronautical mobile</text>
<text x="1110" y="531" style="font-size:15px" textLength="218" lengthAdjust="spacingAndGlyphs">Mobile ex aeronautical mobile (R)</text>
<text x="1341" y="485" style="font-size:15px">Me</text>
<text x="1337" y="499" style="font-size:15px" textLength="30" lengthAdjust="spacingAndGlyphs">MeR</text>
<text x="1340" y="516" style="font-size:15px" textLength="26" lengthAdjust="spacingAndGlyphs">mes</text>
<text x="1340" y="531" style="font-size:15px" textLength="30" lengthAdjust="spacingAndGlyphs">meR</text>
</g>

<g id="connectors" stroke="#333" stroke-width="2" fill="none">
<line x1="490" y1="595" x2="665" y2="595"/>
<line x1="544" y1="638" x2="719" y2="638"/>
<line x1="1091" y1="595" x2="1266" y2="595"/>
<line x1="1012" y1="638" x2="1187" y2="638"/>
<line x1="1068" y1="448" x2="1109" y2="448"/>
<line x1="1087" y1="448" x2="1087" y2="533"/>
</g>

<g id="secondary">
<rect class="rk" x="201" y="576" width="17" height="15"/>
<rect class="or" x="201" y="591" width="17" height="17"/>
<rect class="rk" x="201" y="608" width="17" height="15"/>
<rect class="rk" x="267" y="576" width="6" height="47"/>
<rect class="or" x="267" y="591" width="6" height="14"/>
<rect class="rk" x="583" y="576" width="10" height="15"/>
<rect class="rk" x="583" y="608" width="10" height="15"/>
<rect class="rk" x="931" y="576" width="10" height="47"/>
<rect class="rk" x="1152" y="576" width="12" height="47"/>
<rect class="or" x="1152" y="591" width="12" height="14"/>
<rect x="53" y="650" width="3" height="15" fill="#7a6a5a"/>
<rect class="or" x="926" y="696" width="5" height="46"/>
<g fill="none">
<line class="pu" x1="43" y1="559" x2="43" y2="604"/><line class="te" x1="43" y1="604" x2="43" y2="650"/>
<line class="pu" x1="247" y1="559" x2="247" y2="604"/><line class="te" x1="247" y1="604" x2="247" y2="650"/>
<line class="pu" x1="653" y1="558" x2="653" y2="604"/><line class="te" x1="653" y1="604" x2="653" y2="650"/>
<line class="pu" x1="1061" y1="558" x2="1061" y2="604"/><line class="te" x1="1061" y1="604" x2="1061" y2="650"/>
<line class="pu" x1="1198" y1="558" x2="1198" y2="604"/><line class="te" x1="1198" y1="604" x2="1198" y2="650"/>
<line class="pu" x1="1466" y1="558" x2="1466" y2="604"/><line class="te" x1="1466" y1="604" x2="1466" y2="650"/>
<line class="te" x1="1308" y1="604" x2="1308" y2="650"/>
</g>
<g class="s">
<text x="203" y="589">Radiolocation</text>
<text x="203" y="620">Radiolocation</text>
<text x="188" y="635">4438-4650</text>
<text x="258" y="635">5250-5275</text>
<text x="518" y="587">Radiolocation</text>
<text x="518" y="619">Radiolocation</text>
<text x="561" y="635">9305-9355</text>
<text x="944" y="599">Radiolocation</text>
<text x="934" y="635">13450-13550</text>
<text x="1090" y="589">Radiolocation</text>
<text x="1089" y="618">Radiolocation</text>
<text x="1110" y="634">16100-16200</text>
<text x="58" y="656">2625-2650</text>
<text x="934" y="705">13360-13410</text>
<text class="pt" x="20" y="582">2498-2502 (Region 1)</text>
<text class="pt" x="20" y="597">2495-2505 (Region 2/3)</text>
<text class="bt" x="20" y="633">2501-2502</text>
<text class="pt" x="222" y="573">4995-5005</text>
<text class="bt" x="222" y="659">5003-5005</text>
<text class="pt" x="628" y="585">9995-10005</text>
<text class="bt" x="623" y="626">10003-10005</text>
<text class="pt" x="1029" y="572">14990-15010</text>
<text class="tt" x="1030" y="629">15005-15010</text>
<text class="pt" x="1174" y="574">4995-5005</text>
<text class="pt" x="1436" y="584">19990-20010</text>
<text class="tt" x="1434" y="630">19990-19995</text>
<text class="tt" x="1278" y="630">18052-18068</text>
</g>
<text class="t" x="208" y="606" style="font-size:17px" textLength="119" lengthAdjust="spacingAndGlyphs">RADIOLOCATION</text>
<text class="t" x="1070" y="608" style="font-size:17px" textLength="117" lengthAdjust="spacingAndGlyphs">RADIOLOCATION</text>
<text class="t" x="59" y="677" style="font-size:16px" textLength="69" lengthAdjust="spacingAndGlyphs">MARITIME</text>
<text class="t" x="59" y="697" style="font-size:16px" textLength="132" lengthAdjust="spacingAndGlyphs">RADIONAVIGATION</text>
<text x="934" y="723" style="font-size:17px;fill:#444" textLength="45" lengthAdjust="spacingAndGlyphs">RADIO</text>
<text x="934" y="739" style="font-size:17px;fill:#444" textLength="90" lengthAdjust="spacingAndGlyphs">ASTRONOMY</text>
<text x="782" y="576" text-anchor="middle" style="font-size:16px;font-weight:bold;fill:#7b2e62" textLength="170" lengthAdjust="spacingAndGlyphs">STANDARD FREQUENCY</text>
<text x="781" y="596" text-anchor="middle" style="font-size:16px;font-weight:bold;fill:#7b2e62" textLength="124" lengthAdjust="spacingAndGlyphs">AND TIME SIGNAL</text>
<text x="728" y="627" style="font-size:16px;fill:#2a7fb5" textLength="103" lengthAdjust="spacingAndGlyphs">Space Research</text>
</g>

<g id="legend-footnotes">
<rect x="714" y="847" width="432" height="69" fill="#fcf8c8" stroke="#b5b09a" stroke-width="1"/>
<rect class="ad" x="728" y="858" width="123" height="15"/>
<rect class="al" x="728" y="873" width="123" height="16"/>
<rect class="dc" x="728" y="889" width="123" height="15"/>
<text x="853" y="871" style="font-size:16px" textLength="176" lengthAdjust="spacingAndGlyphs">ADDITIONAL ALLOCATION</text>
<text x="853" y="887" style="font-size:16px" textLength="187" lengthAdjust="spacingAndGlyphs">ALTERNATIVE ALLOCATION</text>
<text x="853" y="903" style="font-size:16px" textLength="248" lengthAdjust="spacingAndGlyphs">DIFFERENT CATEGORY OF SERVICE</text>
</g>

<g id="footnote-bars">
<rect class="ad" x="409" y="821" width="4" height="45"/>
<rect class="ad" x="438" y="821" width="9" height="46"/>
<rect class="ad" x="124" y="878" width="20" height="45"/>
<rect class="ad" x="409" y="933" width="17" height="45"/>
<rect class="ad" x="157" y="991" width="5" height="45"/>
<rect class="ad" x="418" y="991" width="7" height="45"/>
<rect class="ad" x="161" y="1047" width="5" height="45"/>
<rect class="ad" x="103" y="1153" width="14" height="46"/>
<rect class="ad" x="999" y="996" width="8" height="46"/>
<rect class="ad" x="1311" y="933" width="8" height="46"/>
<rect class="al" x="97" y="768" width="3" height="44"/>
<rect class="al" x="43" y="821" width="10" height="45"/>
<rect class="al" x="268" y="874" width="5" height="46"/>
<rect class="al" x="409" y="878" width="4" height="45"/>
<rect class="al" x="145" y="931" width="21" height="46"/>
<rect class="al" x="584" y="934" width="4" height="45"/>
<rect class="al" x="1151" y="933" width="8" height="46"/>
<rect class="al" x="202" y="1100" width="16" height="46"/>
<rect class="dc" x="257" y="1100" width="10" height="46"/>
<rect x="942" y="1047" width="2" height="45" fill="#b3c28e"/>
<rect x="931" y="931" width="10" height="46" fill="#a9a690" stroke="#888470" stroke-width=".8"/>
<rect x="1618" y="878" width="3" height="46" fill="#c4a59a"/>
<rect class="br" x="434" y="1153" width="4" height="46"/>
<rect class="br" x="605" y="1153" width="8" height="46"/>
<rect class="br" x="783" y="1153" width="5" height="46"/>
<rect class="br" x="821" y="1153" width="3" height="46"/>
<rect class="br" x="943" y="1153" width="3" height="46"/>
<rect class="br" x="962" y="1153" width="6" height="46"/>
<rect class="br" x="1109" y="1153" width="16" height="46"/>
<rect class="br" x="1262" y="1153" width="6" height="46"/>
<rect class="br" x="1377" y="1153" width="10" height="46"/>
</g>

<g id="footnote-numbers" class="nb">
<text transform="translate(93 819) rotate(-90) scale(.88 1)">5.117</text>
<text transform="translate(53 817) rotate(-90) scale(.88 1)">5.114</text>
<text transform="translate(418 819) rotate(-90) scale(.88 1)">5.140</text>
<text transform="translate(447 817) rotate(-90) scale(.88 1)">5.143C</text>
<text transform="translate(142 919) rotate(-90) scale(.88 1)">5.119</text>
<text transform="translate(267 911) rotate(-90) scale(.88 1)">5.133A</text>
<text transform="translate(408 911) rotate(-90) scale(.88 1)">5.141</text>
<text transform="translate(162 974) rotate(-90) scale(.88 1)">5.122</text>
<text transform="translate(408 964) rotate(-90) scale(.88 1)">5.141A</text>
<text transform="translate(581 967) rotate(-90) scale(.88 1)">5.145B</text>
<text transform="translate(959 977) rotate(-90) scale(.88 1)">5.149A</text>
<text transform="translate(1176 977) rotate(-90) scale(.88 1)">5.145B</text>
<text transform="translate(1309 972) rotate(-90) scale(.88 1)">5.154</text>
<text transform="translate(1634 914) rotate(-90) scale(.88 1)">5.155</text>
<text transform="translate(157 1026) rotate(-90) scale(.88 1)">5.123</text>
<text transform="translate(417 1034) rotate(-90) scale(.88 1)">5.141B</text>
<text transform="translate(999 1029) rotate(-90) scale(.88 1)">5.152</text>
<text transform="translate(160 1082) rotate(-90) scale(.88 1)">5.125</text>
<text transform="translate(941 1092) rotate(-90) scale(.88 1)">5.150</text>
<text transform="translate(233 1144) rotate(-90) scale(.88 1)">5.132B</text>
<text transform="translate(257 1146) rotate(-90) scale(.88 1)">5.133</text>
<text transform="translate(102 1186) rotate(-90) scale(.88 1)">5.118</text>
<text transform="translate(454 1187) rotate(-90) scale(.88 1)">5.143</text>
<text transform="translate(605 1187) rotate(-90) scale(.88 1)">5.146</text>
<text transform="translate(782 1187) rotate(-90) scale(.88 1)">5.146</text>
<text transform="translate(820 1187) rotate(-90) scale(.88 1)">5.146</text>
<text transform="translate(942 1174) rotate(-90) scale(.88 1)">5.151</text>
<text transform="translate(962 1174) rotate(-90) scale(.88 1)">5.151</text>
<text transform="translate(1109 1186) rotate(-90) scale(.88 1)">5.146</text>
<text transform="translate(1261 1186) rotate(-90) scale(.88 1)">5.146</text>
<text transform="translate(1401 1186) rotate(-90) scale(.88 1)">5.146</text>
</g>

<g id="footnote-ranges" class="s">
<text x="47" y="774" class="xs">3155-3200</text>
<text x="41" y="877">2502-2625</text>
<text x="72" y="922">3500-3750</text>
<text x="92" y="977">3750-4000</text>
<text x="102" y="1035">3900-3950</text>
<text x="107" y="1091">3950-4000</text>
<text x="151" y="1145">4438-4650</text>
<text x="254" y="1157">5130-5250</text>
<text x="51" y="1197">3230-3400</text>
<text x="407" y="861" text-anchor="end">7000-7050</text>
<text x="224" y="867">5250-5275</text>
<text x="414" y="928">7000-7050</text>
<text x="408" y="979" text-anchor="end">7000-7200</text>
<text x="416" y="1043" text-anchor="end">7100-7200</text>
<text x="451" y="874">7350-7450</text>
<text x="583" y="931">9305-9355</text>
<text x="934" y="928">13450-13550</text>
<text x="996" y="1041" text-anchor="end">14250-14350</text>
<text x="941" y="1104">13553-13567</text>
<text x="1623" y="923">21850-21870</text>
<text x="1307" y="978" text-anchor="end">18068-18168</text>
<text x="440" y="1202">7300-7350</text>
<text x="603" y="1202" text-anchor="end">9400-9500</text>
<text x="781" y="1202" text-anchor="end">11600-11650</text>
<text x="826" y="1202" class="xs" textLength="48" lengthAdjust="spacingAndGlyphs">12050-12100</text>
<text x="889" y="1202" class="xs" textLength="48" lengthAdjust="spacingAndGlyphs">13570-13600</text>
<text x="968" y="1202" class="xs" textLength="49" lengthAdjust="spacingAndGlyphs">13800-13870</text>
<text x="1107" y="1202" text-anchor="end">15600-15800</text>
<text x="1260" y="1202" text-anchor="end">17480-17550</text>
<text x="1375" y="1202" text-anchor="end">18900-19020</text>
</g>

<g id="footnote-texts" class="fn">
<text x="106" y="782" textLength="221" lengthAdjust="spacingAndGlyphs"><tspan class="b">FIXED, MOBILE</tspan> ex aeronautical mobile:</text>
<text x="106" y="795" textLength="210" lengthAdjust="spacingAndGlyphs">Côte d’Ivoire, Denmark, Egypt, Liberia,</text>
<text x="106" y="809">Sri Lanka, Togo</text>
<text x="60" y="834" class="b" textLength="92" lengthAdjust="spacingAndGlyphs">FIXED, MOBILE</text>
<text x="60" y="848" textLength="127" lengthAdjust="spacingAndGlyphs">ex aeronautical mobile:</text>
<text x="60" y="862">Denmark, Iraq</text>
<text x="146" y="891" class="b" textLength="94" lengthAdjust="spacingAndGlyphs">FIXED, MOBILE:</text>
<text x="146" y="906">Peru</text>
<text x="168" y="949" textLength="178" lengthAdjust="spacingAndGlyphs"><tspan class="b">FIXED, MOBILE</tspan> ex aeronautical</text>
<text x="168" y="963" textLength="169" lengthAdjust="spacingAndGlyphs">mobile: Bolivia, Chile, Ecuador,</text>
<text x="168" y="978">Paraguay, Peru</text>
<text x="163" y="1003" textLength="219" lengthAdjust="spacingAndGlyphs"><tspan class="b">BROADCASTING:</tspan>  Botswana, Lesotho,</text>
<text x="163" y="1017" textLength="171" lengthAdjust="spacingAndGlyphs">Malawi, Mozambique, Namibia,</text>
<text x="163" y="1031" textLength="242" lengthAdjust="spacingAndGlyphs">South Africa, Swaziland, Zambia, Zimbabwe</text>
<text x="166" y="1066" class="b" textLength="104" lengthAdjust="spacingAndGlyphs">BROADCASTING:</text>
<text x="166" y="1083">Greenland</text>
<text x="-24" y="1107" textLength="221" lengthAdjust="spacingAndGlyphs"><tspan class="b">FIXED, MOBILE</tspan> ex aeronautical mobile:</text>
<text x="-24" y="1122" textLength="219" lengthAdjust="spacingAndGlyphs">Armenia, Belarus, Moldova, Uzbekistan,</text>
<text x="-24" y="1136">Kyrgyzstan</text>
<text x="268" y="1111" textLength="343" lengthAdjust="spacingAndGlyphs"><tspan class="b">MOBILE</tspan> ex aeronautical mobile: Armenia, Azerbaijan, Belarus,</text>
<text x="268" y="1125" textLength="366" lengthAdjust="spacingAndGlyphs">Russian Federation, Georgia, Kazakhstan, Latvia, Lithuania, Niger,</text>
<text x="268" y="1139" textLength="317" lengthAdjust="spacingAndGlyphs">Uzbekistan, Kyrgyzstan, Tajikistan, Turkmenistan, Ukraine</text>
<text x="118" y="1167">Radiolocation:</text>
<text x="118" y="1181">United States, Mexico,</text>
<text x="118" y="1195">Peru, Uruguay</text>
<text x="407" y="831" text-anchor="end"><tspan class="b">FIXED:</tspan> Angola, Iraq,</text>
<text x="407" y="845" text-anchor="end">Somalia, Togo</text>
<text x="275" y="876" textLength="108" lengthAdjust="spacingAndGlyphs"><tspan class="b">FIXED, MOBILE</tspan> ex</text>
<text x="275" y="890" textLength="112" lengthAdjust="spacingAndGlyphs">aeronautical mobile:</text>
<text x="275" y="904" textLength="98" lengthAdjust="spacingAndGlyphs">Armenia, Belarus,</text>
<text x="275" y="918" textLength="118" lengthAdjust="spacingAndGlyphs">Moldova, Uzbekistan,</text>
<text x="275" y="932" textLength="61" lengthAdjust="spacingAndGlyphs">Kyrgyzstan</text>
<text x="415" y="887" class="b">FIXED:</text>
<text x="415" y="901" textLength="176" lengthAdjust="spacingAndGlyphs">Egypt, Eritrea, Ethiopia, Guinea,</text>
<text x="415" y="915">Lybia, Madagascar, Niger</text>
<text x="432" y="946" class="b" textLength="114" lengthAdjust="spacingAndGlyphs">Fixed, Land Mobile:</text>
<text x="432" y="960" textLength="128" lengthAdjust="spacingAndGlyphs">Uzbekistan, Kyrgyzstan</text>
<text x="429" y="992" textLength="508" lengthAdjust="spacingAndGlyphs"><tspan class="b">FIXED, MOBILE</tspan> ex aeronautical mobile: Algeria, Saudi Arabia, Australia, Bahrain, Botswana,</text>
<text x="429" y="1006" textLength="459" lengthAdjust="spacingAndGlyphs">Brunei Darussalam, China, Comoros, Korea (Rep. of). Diego Garcia, Djibouti, Egypt,</text>
<text x="429" y="1020" textLength="498" lengthAdjust="spacingAndGlyphs">United Arab Emirates, Eritrea, Guinea, Indonesia, Iran (Islamic Republic of), Japan, Jordan,</text>
<text x="429" y="1034" textLength="495" lengthAdjust="spacingAndGlyphs">Kuwait, Libya, Mali, Morocco, Mauritania, Niger, New Zealand, Oman, Papua New Guinea,</text>
<text x="429" y="1048" textLength="484" lengthAdjust="spacingAndGlyphs">Qatar, Syrian Arab Republic, Singapore, Sudan, South Sudan, Tunisia, Viet Nam, Yemen</text>
<text x="452" y="812" textLength="355" lengthAdjust="spacingAndGlyphs"><tspan class="b">FIXED:</tspan> Algeria, Saudi Arabia, Bahrain, Comoros, Djibouti, Egypt,</text>
<text x="452" y="826" textLength="350" lengthAdjust="spacingAndGlyphs">United Arab Emirates, Iran (Islamic Republic of), Jordan, Kuwait,</text>
<text x="452" y="840" textLength="365" lengthAdjust="spacingAndGlyphs">Lybia, Morocco, Mauritania, Niger, Oman, Qatar, Syrian Arab Rep.,</text>
<text x="452" y="854" textLength="203" lengthAdjust="spacingAndGlyphs">Sudan, South Sudan, Tunisia, Yemen</text>
<text x="590" y="946" textLength="139" lengthAdjust="spacingAndGlyphs"><tspan class="b">FIXED</tspan>: Armenia, Belarus,</text>
<text x="590" y="960">Moldova, Uzbekistan,</text>
<text x="590" y="974">Kyrgyzstan</text>
<text x="929" y="946" text-anchor="end" textLength="164" lengthAdjust="spacingAndGlyphs"><tspan class="b">FIXED</tspan>, Mobile ex aer. mobile:</text>
<text x="929" y="960" text-anchor="end">Armenia, Belarus, Moldova,</text>
<text x="929" y="974" text-anchor="end">Uzbekistan, Kyrgyzstan</text>
<text x="1147" y="946" text-anchor="end"><tspan class="b">FIXED</tspan>:</text>
<text x="1147" y="960" text-anchor="end" textLength="151" lengthAdjust="spacingAndGlyphs">Armenia, Belarus, Moldova,</text>
<text x="1147" y="974" text-anchor="end">Uzbekistan, Kyrgyzstan</text>
<text x="1010" y="1009" textLength="269" lengthAdjust="spacingAndGlyphs"><tspan class="b">FIXED:</tspan> Armenia, Azerbaijan, China, Côte d’Ivoire,</text>
<text x="1010" y="1023" textLength="324" lengthAdjust="spacingAndGlyphs">the Russian Federation, Georgia, Iran (Islamic Republic of),</text>
<text x="1010" y="1037" textLength="388" lengthAdjust="spacingAndGlyphs">Kazakhstan, Uzbekistan, Kyrgyzstan, Tajikistan, Turkmenistan, Ukraine</text>
<text x="947" y="1076" class="b" textLength="142" lengthAdjust="spacingAndGlyphs">Industrial, Scientific and</text>
<text x="947" y="1091" class="b" textLength="154" lengthAdjust="spacingAndGlyphs">Medical (ISM) applications</text>
<text x="1614" y="880" text-anchor="end" class="b" textLength="174" lengthAdjust="spacingAndGlyphs">AERONAUTICAL MOBILE (R):</text>
<text x="1614" y="895" text-anchor="end" textLength="298" lengthAdjust="spacingAndGlyphs">Armenia, Azerbaijan, Belarus, the Russian Federation,</text>
<text x="1614" y="909" text-anchor="end" textLength="298" lengthAdjust="spacingAndGlyphs">Georgia, Kazakhstan, Moldova, Mongolia, Uzbekistan,</text>
<text x="1614" y="923" text-anchor="end" textLength="297" lengthAdjust="spacingAndGlyphs">Kyrgystan, Slovakia, Tajikistan, Turkmenistan, Ukraine</text>
<text x="1320" y="944" textLength="291" lengthAdjust="spacingAndGlyphs"><tspan class="b">FIXED:</tspan> Armenia, Azerbaijan, the Russian Federation,</text>
<text x="1320" y="962" textLength="242" lengthAdjust="spacingAndGlyphs">Georgia, Kazakhstan, Kyrgyzstan, Tajikistan,</text>
<text x="1320" y="978">Turkmenistan, Ukraine</text>
<text x="460" y="1167"><tspan class="b">FIXED</tspan>, Land mobile</text>
<text x="615" y="1160" class="b">FIXED</text>
<text x="826" y="1160" class="b">FIXED</text>
<text x="970" y="1157"><tspan class="b">FIXED</tspan>, mobile ex</text>
<text x="970" y="1171">aeronautical mobile</text>
<text x="1127" y="1160" class="b">FIXED</text>
<text x="1306" y="1159" class="b">FIXED</text>
<text x="1520" y="1197" style="font-size:15px" textLength="136" lengthAdjust="spacingAndGlyphs">WRC-2015; August 2017</text>
</g>
</svg>
